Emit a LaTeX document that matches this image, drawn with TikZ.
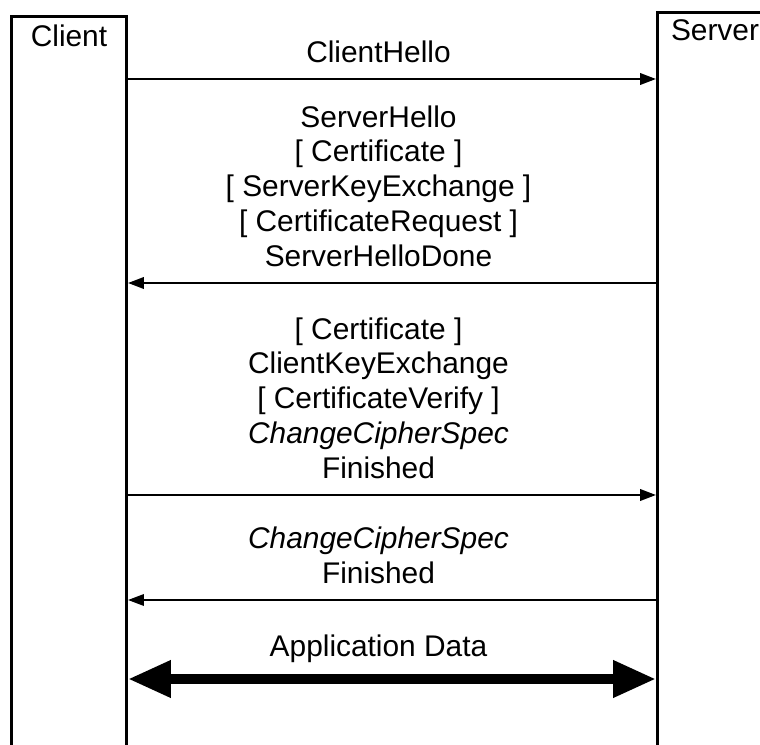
\documentclass[tikz,border=0pt]{standalone}
\usepackage{fontspec}
\setmainfont{Liberation Sans}
\usetikzlibrary{arrows.meta,positioning}

\begin{document}
\begin{tikzpicture}[
  party/.style={draw,line width=1.7pt,minimum width=2.3cm,minimum height=16cm,anchor=north west,inner sep=0pt},
  msg/.style={line width=1.3pt,-{Triangle[length=0.32cm,width=0.23cm]}},
  msgtext/.style={align=center,inner sep=0pt,font=\fontsize{17}{19.8}\selectfont},
  bulk/.style={line width=0.2cm,{Triangle[length=0.86cm,width=0.7cm]}-{Triangle[length=0.86cm,width=0.7cm]}}
  ]
  \useasboundingbox (0,0) rectangle (15.2,-14.9);
  \clip (0,0) rectangle (15.2,-14.9);
  % the two parties (boxes run off the page)
  \node[party] (client) at (0.2,-0.3) {};
  \node[party] (server) at (13.12,-0.22) {};
  \node[msgtext,below=0.2cm of client.north] (client-name) {Client};
  \node[msgtext,below=0.16cm of server.north] (server-name) {Server};
  % one row per flight: label point and both line ends
  \foreach \n/\y in {hello/1.58,keyx/5.66,fin/9.9,ccs/12.0,data/13.58}{
    \coordinate (m-\n) at (7.57,-\y);
    \coordinate (c-\n) at (client.east |- m-\n);
    \coordinate (s-\n) at (server.west |- m-\n);
  }
  \draw[msg] (c-hello) -- (s-hello);
  \node[msgtext,above=0.32cm of m-hello] (t-hello) {ClientHello};
  \draw[msg] (s-keyx) -- (c-keyx);
  \node[msgtext,above=0.32cm of m-keyx] (t-keyx) {ServerHello\\{[ Certificate ]}\\{[ ServerKeyExchange ]}\\{[ CertificateRequest ]}\\ServerHelloDone};
  \draw[msg] (c-fin) -- (s-fin);
  \node[msgtext,above=0.32cm of m-fin] (t-fin) {{[ Certificate ]}\\ClientKeyExchange\\{[ CertificateVerify ]}\\\textit{ChangeCipherSpec}\\Finished};
  \draw[msg,line width=1.1pt] (s-ccs) -- (c-ccs);
  \node[msgtext,above=0.32cm of m-ccs] (t-ccs) {\textit{ChangeCipherSpec}\\Finished};
  % application data both ways
  \draw[bulk] (c-data) -- (s-data);
  \node[msgtext,above=0.32cm of m-data] (t-data) {Application Data};
\end{tikzpicture}
\end{document}
